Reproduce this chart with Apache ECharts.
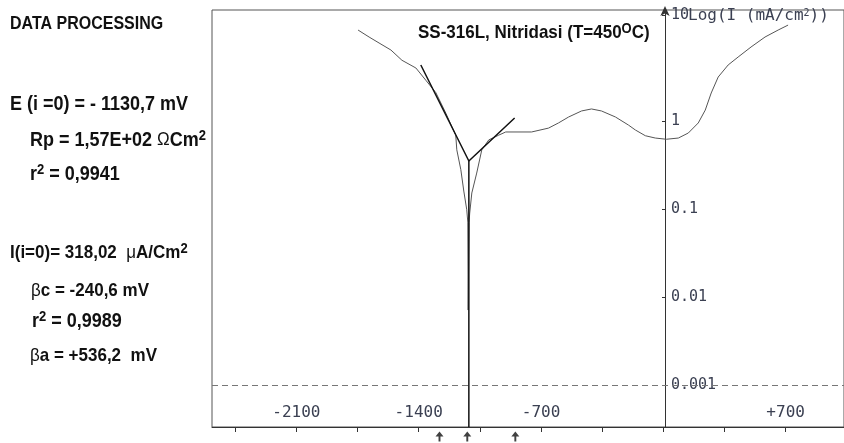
<!DOCTYPE html>
<html>
<head>
<meta charset="utf-8">
<script src="https://cdn.jsdelivr.net/npm/echarts@6/dist/echarts.min.js"></script>
<style>
  html, body { margin: 0; padding: 0; background: #fff; }
  #chart { width: 844px; height: 443px; }
</style>
</head>
<body>
<div id="chart"></div>
<script>
// polarization curve, potential in mV, current density in mA/cm2
const potential = [-1747, -1684, -1627, -1559, -1496, -1416, -1359, -1302, -1245, -1210,
  -1188, -1182, -1159, -1142, -1125, -1119, -1117, -1112, -1108, -1096,
  -1068, -1039, -999, -942, -902, -754, -657, -600, -542, -468,
  -411, -354, -274, -200, -160, -103, -46, 17, 86, 143,
  200, 240, 274, 314, 371, 428, 502, 582, 657, 714]
const current = [10.8, 9.0, 7.7, 6.4, 4.9, 4.0, 2.9, 2.1, 1.23, 0.86,
  0.69, 0.47, 0.28, 0.16, 0.098, 0.071, 0.0071, 0.07, 0.090, 0.152,
  0.256, 0.47, 0.61, 0.69, 0.75, 0.75, 0.83, 0.95, 1.11, 1.30,
  1.37, 1.30, 1.11, 0.90, 0.79, 0.68, 0.64, 0.62, 0.64, 0.73,
  0.95, 1.33, 2.08, 3.16, 4.33, 5.33, 6.93, 9.0, 10.8, 12.3]

// tafel fit lines (cathodic start, vertex, anodic end)
const tafelE = [-1388, -1113, -851]
const tafelI = [4.33, 0.351, 1.08]
const ecorr = -1113
// fit range markers under the axis
const markerE = [-1281, -1122, -847]

const xTicks = [-2450, -2100, -1750, -1400, -1050, -700, -350, 0, 350, 700]
const xLabels = [-2100, -1400, -700, 700]
const yLabels = [0.001, 0.01, 0.1, 1, 10]

const xMin = -2583
const xMax = 1034
const yMin = 0.000333
const yMax = 18.25
const lg = v => Math.log10(v)

const chart = echarts.init(document.getElementById('chart'))

const mono = '"DejaVu Sans Mono", monospace'
const narrow = '"Liberation Sans Narrow", "Liberation Sans", Arial, sans-serif'
const labelColor = '#3b4052'

// the "10" mark sits at the very top of the axis on the original plot
const yLabelPos = yLabels.map(v => (v === 10 ? 1.2 : lg(v)))

function panelText(x, y, text, size, rich) {
  return {
    type: 'text', x: x, y: y, scaleY: 1.12,
    style: {
      text: text, font: 'bold ' + size + 'px ' + narrow, fill: '#111', verticalAlign: 'middle',
      rich: rich || {}
    }
  }
}
const sup = { font: 'bold 13px ' + narrow, fill: '#111', verticalAlign: 'top', padding: [0, 0, 8, 0] }
const greek = { font: '17px ' + narrow, fill: '#111' }

chart.setOption({
  animation: false,
  grid: [
    { left: 212, right: -2, top: 10, bottom: 16, show: true, borderColor: '#555', borderWidth: 1 },
    { left: 212, right: -2, top: 430, height: 13 },
    // holds the vertical I axis that crosses at E = 0
    { left: 665, right: -2, top: 10, bottom: 16 }
  ],
  xAxis: [{
    type: 'value',
    min: xMin,
    max: xMax,
    axisLine: { onZero: false, lineStyle: { color: '#333', width: 1 } },
    splitLine: { show: false },
    axisTick: { customValues: xTicks, length: 5, lineStyle: { color: '#333' } },
    axisLabel: {
      inside: true,
      customValues: xLabels,
      margin: 6,
      fontFamily: mono,
      fontSize: 16,
      color: labelColor,
      formatter: v => (v > 0 ? '+' + v : String(v))
    }
  }, {
    gridIndex: 1, type: 'value', min: xMin, max: xMax, show: false
  }, {
    gridIndex: 2, type: 'value', min: 0, max: xMax, show: false
  }],
  yAxis: [{
    type: 'value',
    min: lg(yMin),
    max: lg(yMax),
    show: false
  }, {
    gridIndex: 1, type: 'value', min: 0, max: 1, show: false
  }, {
    gridIndex: 2,
    type: 'value',
    position: 'left',
    min: lg(yMin),
    max: lg(yMax),
    axisLine: {
      show: true,
      onZero: false,
      symbol: ['none', 'arrow'],
      symbolSize: [7, 10],
      symbolOffset: [0, 4],
      lineStyle: { color: '#333', width: 1 }
    },
    splitLine: { show: false },
    axisTick: { show: true, customValues: yLabelPos, length: 3, lineStyle: { color: '#333' } },
    axisLabel: {
      inside: true,
      customValues: yLabelPos,
      margin: 6,
      fontFamily: mono,
      fontSize: 15,
      color: labelColor,
      formatter: v => (v > 1 ? '10' : String(Math.pow(10, Math.round(v))))
    }
  }],
  series: [{
    name: 'curve',
    type: 'line',
    data: potential.map((e, i) => [e, lg(current[i])]),
    symbol: 'none',
    lineStyle: { color: '#555', width: 1 },
    markLine: {
      silent: true,
      symbol: 'none',
      label: { show: false },
      lineStyle: { color: '#777', type: [6, 4], width: 1 },
      data: [{ yAxis: lg(0.001) }]
    }
  }, {
    name: 'tafel',
    type: 'line',
    data: tafelE.map((e, i) => [e, lg(tafelI[i])]),
    symbol: 'none',
    lineStyle: { color: '#111', width: 1.5 }
  }, {
    name: 'ecorr',
    type: 'line',
    data: [[ecorr, lg(tafelI[1])], [ecorr, lg(yMin)]],
    symbol: 'none',
    lineStyle: { color: '#111', width: 1.5 }
  }, {
    name: 'markers',
    type: 'scatter',
    xAxisIndex: 1,
    yAxisIndex: 1,
    data: markerE.map(e => [e, 0.5]),
    symbol: 'path://M5,0 L10,6 L6.2,6 L6.2,12 L3.8,12 L3.8,6 L0,6 Z',
    symbolSize: [8, 10],
    itemStyle: { color: '#111' }
  }],
  graphic: [
    panelText(10, 24, 'DATA PROCESSING', 16),
    panelText(10, 104, 'E (i =0) = - 1130,7 mV', 18),
    panelText(30, 140, 'Rp = 1,57E+02 {g|Ω}Cm{s|2}', 18, { g: greek, s: sup }),
    panelText(30, 174, 'r{s|2} = 0,9941', 18, { s: sup }),
    panelText(10, 253, 'I(i=0)= 318,02  {g|μ}A/Cm{s|2}', 17, { g: greek, s: sup }),
    panelText(31, 291, '{g|β}c = -240,6 mV', 17, { g: greek }),
    panelText(32, 321, 'r{s|2} = 0,9989', 18, { s: sup }),
    panelText(30, 356, '{g|β}a = +536,2  mV', 17, { g: greek }),
    panelText(418, 33, 'SS-316L, Nitridasi (T=450{s|O}C)', 17, { s: sup }),
    {
      type: 'text', x: 688, y: 16,
      style: {
        text: 'Log(I (mA/cm{s|2}))', font: '16px ' + mono, fill: labelColor, verticalAlign: 'middle',
        rich: { s: { font: '10px ' + mono, fill: labelColor, verticalAlign: 'top', padding: [0, 0, 6, 0] } }
      }
    }
  ]
})
</script>
</body>
</html>
